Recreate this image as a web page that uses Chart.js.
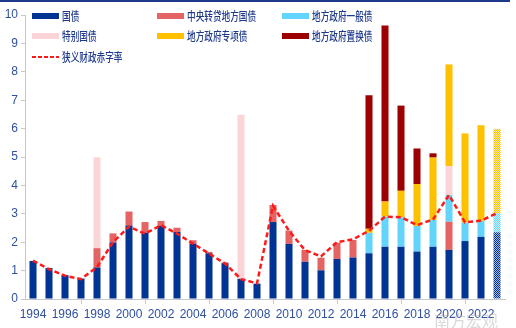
<!DOCTYPE html>
<html>
<head>
<meta charset="utf-8">
<script src="https://cdn.jsdelivr.net/npm/chart.js@4/dist/chart.umd.min.js"></script>
<style>
  body { margin: 0; background: #fff; }
  #wrap { position: relative; width: 516px; height: 328px; }
  #topline { position: absolute; left: 0; top: 0; width: 510px; height: 2px; background: #1f3a8c; }
</style>
</head>
<body>
<div id="wrap">
  <canvas id="debt" width="516" height="328"></canvas>
  <div id="topline"></div>
</div>
<script>
// years 1994-2023, values in % of GDP
var years = ['1994','1995','1996','1997','1998','1999','2000','2001','2002','2003',
             '2004','2005','2006','2007','2008','2009','2010','2011','2012','2013',
             '2014','2015','2016','2017','2018','2019','2020','2021','2022','2023'];

var guozhai    = [1.34,1.09,0.84,0.72,1.11,1.99,2.59,2.34,2.57,2.36,
                  1.95,1.61,1.26,0.71,0.54,2.71,1.94,1.31,1.01,1.41,
                  1.46,1.61,1.84,1.84,1.67,1.84,1.73,2.04,2.19,2.35];
var zhuandai   = [null,null,null,null,0.68,0.32,0.49,0.37,0.18,0.15,
                  0.12,0.05,0.03,null,null,0.60,0.47,0.42,0.44,0.57,
                  0.62,null,null,null,null,null,0.99,null,null,null];
var yiban      = [null,null,null,null,null,null,null,null,null,null,
                  null,null,null,null,null,null,null,null,null,null,
                  null,0.72,1.06,1.04,0.90,0.94,0.94,0.65,0.56,0.67];
var tebie      = [null,null,null,null,3.20,null,null,null,null,null,
                  null,null,null,5.78,null,null,null,null,null,null,
                  null,null,null,null,null,null,1.02,null,null,null];
var zhuanxiang = [null,null,null,null,null,null,null,null,null,null,
                  null,null,null,null,null,null,null,null,null,null,
                  null,0.14,0.53,0.93,1.48,2.20,3.58,3.14,3.37,2.97];
var zhihuan    = [null,null,null,null,null,null,null,null,null,null,
                  null,null,null,null,null,null,null,null,null,null,
                  null,4.70,6.20,3.00,1.25,0.15,null,null,null,null];
var deficit    = [1.35,1.05,0.82,0.70,1.12,2.00,2.55,2.30,2.60,2.30,
                  1.95,1.60,1.25,0.70,0.55,3.28,2.40,1.72,1.50,2.00,
                  2.10,2.40,2.90,2.88,2.60,2.80,3.66,2.70,2.76,3.02];

var yTicks = [0,1,2,3,4,5,6,7,8,9,10];

var axisColor = '#2f4f9f';
var numFont = "'Liberation Sans Narrow', 'Liberation Sans', Arial, sans-serif";

// last year is a forecast -> dotted fill
function hatch(color) {
  var c = document.createElement('canvas');
  c.width = 2; c.height = 2;
  var g = c.getContext('2d');
  g.fillStyle = '#ffffff';
  g.fillRect(0, 0, 2, 2);
  g.globalAlpha = 0.35;
  g.fillStyle = color;
  g.fillRect(0, 0, 2, 2);
  g.globalAlpha = 1;
  g.fillRect(0, 0, 1, 1);
  g.fillRect(1, 1, 1, 1);
  return g.createPattern(c, 'repeat');
}

function colours(color) {
  return years.map(function (y, i) { return i === years.length - 1 ? hatch(color) : color; });
}

function bar(label, data, color) {
  return {
    type: 'bar',
    label: label,
    data: data,
    backgroundColor: colours(color),
    legendColor: color,
    borderWidth: 0,
    stack: 'debt',
    order: 1,
    barPercentage: 0.44,
    categoryPercentage: 1
  };
}

// legend drawn inside the plot, three columns
var legendPlugin = {
  id: 'insideLegend',
  afterDraw: function (chart) {
    var ctx = chart.ctx;
    var items = [
      { ds: 0, x: 32,  y: 16 }, { ds: 1, x: 157, y: 16 }, { ds: 2, x: 282, y: 16 },
      { ds: 3, x: 32,  y: 36 }, { ds: 4, x: 157, y: 36 }, { ds: 5, x: 282, y: 36 },
      { ds: 6, x: 32,  y: 57 }
    ];
    ctx.save();
    items.forEach(function (it) {
      var d = chart.data.datasets[it.ds];
      if (d.type === 'line') {
        ctx.strokeStyle = d.borderColor;
        ctx.lineWidth = 2;
        ctx.setLineDash([4, 2]);
        ctx.beginPath();
        ctx.moveTo(it.x, it.y);
        ctx.lineTo(it.x + 27, it.y);
        ctx.stroke();
        ctx.setLineDash([]);
      } else {
        ctx.fillStyle = d.legendColor;
        ctx.fillRect(it.x, it.y - 3, 27, 6);
      }
      ctx.save();
      ctx.translate(it.x + 30, it.y);
      ctx.scale(0.72, 1);
      ctx.fillStyle = '#1f3a8c';
      ctx.font = "500 12px 'Noto Sans CJK SC'";
      ctx.textBaseline = 'middle';
      ctx.fillText(d.label, 0, 0);
      ctx.restore();
    });
    // source watermark
    ctx.fillStyle = 'rgba(170,170,170,0.45)';
    ctx.font = "16px 'Noto Sans CJK SC'";
    ctx.textBaseline = 'middle';
    ctx.fillText('南方宏观', 434, 321);
    ctx.restore();
  }
};

var ctx = document.getElementById('debt').getContext('2d');
var chart = new Chart(ctx, {
  data: {
    labels: years,
    datasets: [
      bar('国债', guozhai, '#003393'),
      bar('中央转贷地方国债', zhuandai, '#e46464'),
      bar('地方政府一般债', yiban, '#63d5fd'),
      bar('特别国债', tebie, '#fad4d6'),
      bar('地方政府专项债', zhuanxiang, '#ffc000'),
      bar('地方政府置换债', zhihuan, '#9d0000'),
      {
        type: 'line',
        label: '狭义财政赤字率',
        data: deficit,
        borderColor: '#ff1a1a',
        borderWidth: 2.5,
        borderDash: [5, 3],
        pointRadius: 0,
        tension: 0,
        fill: false,
        stack: 'line',
        order: 0
      }
    ]
  },
  options: {
    responsive: false,
    devicePixelRatio: 1,
    animation: false,
    layout: { padding: { top: 15, right: 11, left: 0, bottom: 0 } },
    plugins: {
      legend: { display: false },
      tooltip: { enabled: false }
    },
    scales: {
      x: {
        stacked: true,
        afterFit: function (s) { s.height = 29; },
        grid: { drawOnChartArea: false, tickLength: 5, color: '#c8c8c8' },
        border: { color: '#c8c8c8' },
        ticks: {
          autoSkip: true,
          maxTicksLimit: 15,
          maxRotation: 0,
          padding: 3,
          color: axisColor,
          font: { family: numFont, size: 12 }
        }
      },
      y: {
        stacked: true,
        min: 0,
        max: 10,
        afterFit: function (s) { s.width = 25; },
        afterBuildTicks: function (s) { s.ticks = yTicks.map(function (v) { return { value: v }; }); },
        grid: { drawOnChartArea: false, tickLength: 4, color: '#c8c8c8' },
        border: { color: '#c8c8c8' },
        ticks: {
          padding: 3,
          color: axisColor,
          font: { family: numFont, size: 12 }
        }
      }
    }
  },
  plugins: [legendPlugin]
});
</script>
</body>
</html>
